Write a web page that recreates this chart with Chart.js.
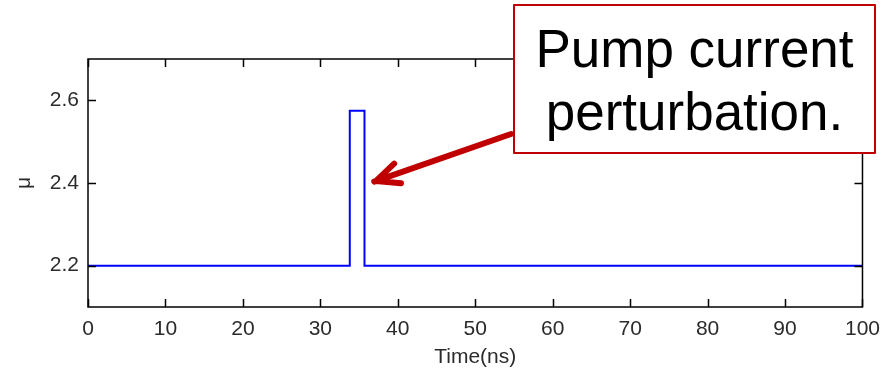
<!DOCTYPE html>
<html>
<head>
<meta charset="utf-8">
<script src="https://cdn.jsdelivr.net/npm/chart.js@4/dist/chart.umd.min.js"></script>
<style>
  html, body { margin:0; padding:0; background:#fff; }
  #wrap { width:890px; height:372px; }
</style>
</head>
<body>
<div id="wrap"><canvas id="c" width="890" height="372"></canvas></div>
<script>
// time axis (ns) and pump current mu
const timeNs = [0, 33.8, 33.8, 35.7, 35.7, 100];
const mu     = [2.2, 2.2, 2.575, 2.575, 2.2, 2.2];

const xTicks = [0, 10, 20, 30, 40, 50, 60, 70, 80, 90, 100];
const yTicks = [2.2, 2.4, 2.6];

const noteLines = ["Pump current", "perturbation."];
const arrowTip = { x: 37.2, y: 2.405 }; // in data units

const TICK_FONT = "'Liberation Sans', Arial, sans-serif";

// matlab style box + inward ticks on all four sides
const boxPlugin = {
  id: "box",
  afterDatasetsDraw(chart){
    const { ctx, chartArea: a, scales } = chart;
    const len = 8;
    ctx.save();
    ctx.strokeStyle = "#000";
    ctx.lineWidth = 1.5;
    ctx.beginPath();
    scales.x.ticks.forEach(t => {
      const px = Math.round(scales.x.getPixelForValue(t.value)) + 0.5;
      ctx.moveTo(px, a.bottom); ctx.lineTo(px, a.bottom - len);
      ctx.moveTo(px, a.top);    ctx.lineTo(px, a.top + len);
    });
    scales.y.ticks.forEach(t => {
      const py = Math.round(scales.y.getPixelForValue(t.value)) + 0.5;
      ctx.moveTo(a.left, py);  ctx.lineTo(a.left + len, py);
      ctx.moveTo(a.right, py); ctx.lineTo(a.right - len, py);
    });
    ctx.stroke();
    ctx.strokeRect(a.left, a.top, a.right - a.left, a.bottom - a.top);
    ctx.restore();
  }
};

// the red callout box and arrow
const notePlugin = {
  id: "note",
  afterDraw(chart){
    const { ctx, scales } = chart;
    const bx = 514, by = 5, bw = 361, bh = 148;

    // arrow
    const tx = scales.x.getPixelForValue(arrowTip.x);
    const ty = scales.y.getPixelForValue(arrowTip.y);
    const sx = bx - 3, sy = by + 129;
    const ang = Math.atan2(ty - sy, tx - sx);
    ctx.save();
    ctx.strokeStyle = "#c00000";
    ctx.lineWidth = 6;
    ctx.lineCap = "round";
    ctx.lineJoin = "round";
    ctx.beginPath();
    ctx.moveTo(sx, sy);
    ctx.lineTo(tx + 2 * Math.cos(ang), ty + 2 * Math.sin(ang));
    const head = 25, spread = 0.43;
    ctx.moveTo(tx - head * Math.cos(ang - spread), ty - head * Math.sin(ang - spread));
    ctx.lineTo(tx, ty);
    ctx.lineTo(tx - head * Math.cos(ang + spread), ty - head * Math.sin(ang + spread));
    ctx.stroke();

    // box
    ctx.fillStyle = "#fff";
    ctx.fillRect(bx, by, bw, bh);
    ctx.lineWidth = 2;
    ctx.strokeRect(bx, by, bw, bh);

    ctx.fillStyle = "#000";
    ctx.font = "53px 'Liberation Sans', Arial, sans-serif";
    ctx.textAlign = "center";
    ctx.textBaseline = "alphabetic";
    ctx.fillText(noteLines[0], bx + bw / 2, by + 62);
    ctx.fillText(noteLines[1], bx + bw / 2, by + 125);
    ctx.restore();
  }
};

new Chart(document.getElementById("c"), {
  type: "scatter",
  data: {
    datasets: [{
      data: timeNs.map((t, i) => ({ x: t, y: mu[i] })),
      showLine: true,
      borderColor: "#0000ff",
      borderWidth: 2,
      pointRadius: 0,
      tension: 0,
      fill: false
    }]
  },
  plugins: [boxPlugin, notePlugin],
  options: {
    responsive: false,
    animation: false,
    events: [],
    layout: { padding: { left: 0, top: 59, right: 24, bottom: 0 } },
    plugins: { legend: { display: false }, tooltip: { enabled: false } },
    scales: {
      x: {
        type: "linear",
        min: 0, max: 100,
        afterBuildTicks: s => { s.ticks = xTicks.map(v => ({ value: v })); },
        afterFit: s => { s.height = 65; },
        grid: { display: false, drawTicks: false },
        border: { display: false },
        ticks: { color: "#2b2b2b", padding: 10, font: { family: TICK_FONT, size: 21 }, maxRotation: 0 },
        title: { display: true, text: "Time(ns)", color: "#2b2b2b", padding: { top: 0, bottom: 2 },
                 font: { family: TICK_FONT, size: 21 } }
      },
      y: {
        min: 2.1, max: 2.7,
        afterBuildTicks: s => { s.ticks = yTicks.map(v => ({ value: v })); },
        afterFit: s => { s.width = 88; },
        grid: { display: false, drawTicks: false },
        border: { display: false },
        ticks: { color: "#2b2b2b", padding: 9, font: { family: TICK_FONT, size: 21 },
                 callback: v => v.toFixed(1) },
        title: { display: true, text: "μ", color: "#2b2b2b", padding: { top: 12, bottom: 0 },
                 font: { family: TICK_FONT, size: 21 } }
      }
    }
  }
});
</script>
</body>
</html>
